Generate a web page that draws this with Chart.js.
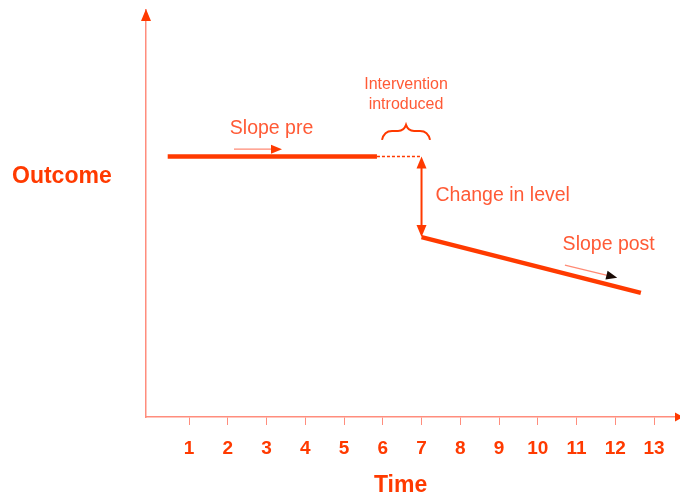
<!DOCTYPE html>
<html>
<head>
<meta charset="utf-8">
<script src="https://cdn.jsdelivr.net/npm/chart.js@4"></script>
<style>
  body { margin:0; background:#fff; }
  #wrap { width:680px; height:497px; }
</style>
</head>
<body>
<div id="wrap"><canvas id="its" width="680" height="497"></canvas></div>
<script>
// interrupted time series sketch
const timeTicks = [1, 2, 3, 4, 5, 6, 7, 8, 9, 10, 11, 12, 13];
const preX = [0.45, 5.85];
const preY = [64, 64];
const gapX = [5.85, 7];
const gapY = [64, 64];
const postX = [7, 12.66];
const postY = [44.2, 30.5];

const LINE = '#ff3a00';
const TEXT = '#ff5a36';
const AXIS = '#ff8d7d';
const FONT = '"Liberation Sans", Arial, sans-serif';

const pts = (xs, ys) => xs.map((x, i) => ({ x: x, y: ys[i] }));

function head(ctx, x, y, ang, len, w, color) {
  ctx.save();
  ctx.translate(x, y);
  ctx.rotate(ang);
  ctx.fillStyle = color;
  ctx.beginPath();
  ctx.moveTo(0, 0);
  ctx.lineTo(-len, -w / 2);
  ctx.lineTo(-len, w / 2);
  ctx.closePath();
  ctx.fill();
  ctx.restore();
}

const extras = {
  id: 'extras',
  afterDatasetsDraw(chart) {
    const ctx = chart.ctx, xs = chart.scales.x, ys = chart.scales.y, a = chart.chartArea;
    const X = v => xs.getPixelForValue(v), Y = v => ys.getPixelForValue(v);
    ctx.save();
    // axis arrow heads
    head(ctx, a.left, a.top - 1, -Math.PI / 2, 12, 10, LINE);
    head(ctx, a.right + 3, a.bottom, 0, 8, 9, LINE);

    // change in level double arrow
    const xc = X(postX[0]);
    ctx.strokeStyle = LINE; ctx.lineWidth = 2;
    ctx.beginPath(); ctx.moveTo(xc, Y(preY[0]) + 6); ctx.lineTo(xc, Y(postY[0]) - 6); ctx.stroke();
    head(ctx, xc, Y(preY[0]), -Math.PI / 2, 12, 10, LINE);
    head(ctx, xc, Y(postY[0]), Math.PI / 2, 12, 10, LINE);

    // slope pre arrow
    let x1 = X(2.16), y1 = Y(65.8), x2 = X(3.4), y2 = y1;
    ctx.strokeStyle = '#ff8a74'; ctx.lineWidth = 1.2;
    ctx.beginPath(); ctx.moveTo(x1, y1); ctx.lineTo(x2 - 6, y2); ctx.stroke();
    head(ctx, x2, y2, 0, 11, 9, LINE);

    // slope post arrow
    x1 = X(10.7); y1 = Y(37.3); x2 = X(12.05); y2 = Y(34.2);
    const ang = Math.atan2(y2 - y1, x2 - x1);
    ctx.beginPath(); ctx.moveTo(x1, y1); ctx.lineTo(x2 - 6 * Math.cos(ang), y2 - 6 * Math.sin(ang)); ctx.stroke();
    head(ctx, x2, y2, ang, 11, 9, '#1a0a05');

    // brace above the gap
    const bx = X(6.6), by = Y(70.3), hw = 24;
    ctx.strokeStyle = LINE; ctx.lineWidth = 2;
    ctx.beginPath();
    ctx.moveTo(bx - hw, by + 9);
    ctx.quadraticCurveTo(bx - hw + 2, by, bx - hw + 10, by);
    ctx.lineTo(bx - 8, by);
    ctx.quadraticCurveTo(bx - 2, by, bx, by - 6);
    ctx.quadraticCurveTo(bx + 2, by, bx + 8, by);
    ctx.lineTo(bx + hw - 10, by);
    ctx.quadraticCurveTo(bx + hw - 2, by, bx + hw, by + 9);
    ctx.stroke();

    // labels
    ctx.fillStyle = TEXT;
    ctx.textBaseline = 'middle';
    ctx.textAlign = 'center';
    ctx.font = '16px ' + FONT;
    ctx.fillText('Intervention', X(6.6), Y(81.6));
    ctx.fillText('introduced', X(6.6), Y(76.7));
    ctx.font = '19.5px ' + FONT;
    ctx.fillText('Slope pre', X(3.13), Y(70.8));
    ctx.fillText('Slope post', X(11.83), Y(42.3));
    ctx.textAlign = 'left';
    ctx.fillText('Change in level', X(7.36), Y(54.3));
    ctx.font = 'bold 23px ' + FONT;
    ctx.fillStyle = LINE;
    ctx.fillText('Outcome', 12, Y(59.0));
    // axis title, placed left of the plot centre as in the source
    ctx.textAlign = 'center';
    ctx.fillText('Time', X(6.46), 486);
    ctx.restore();
  }
};

new Chart(document.getElementById('its').getContext('2d'), {
  type: 'line',
  data: {
    datasets: [
      { data: pts(preX, preY), borderColor: LINE, borderWidth: 4.5, pointRadius: 0 },
      { data: pts(gapX, gapY), borderColor: LINE, borderWidth: 1.5, borderDash: [3, 2], pointRadius: 0 },
      { data: pts(postX, postY), borderColor: LINE, borderWidth: 4.5, pointRadius: 0 }
    ]
  },
  options: {
    responsive: false,
    animation: false,
    devicePixelRatio: 1,
    layout: { padding: { left: 138, top: 10, right: 0, bottom: 0 } },
    plugins: { legend: { display: false }, tooltip: { enabled: false } },
    scales: {
      x: {
        type: 'linear', min: -0.11, max: 13.67,
        afterBuildTicks: s => { s.ticks = timeTicks.map(v => ({ value: v })); },
        grid: { drawOnChartArea: false, drawTicks: true, tickLength: 8, color: AXIS, lineWidth: 1 },
        border: { display: true, color: AXIS, width: 1.5 },
        ticks: { color: LINE, padding: 14.5, maxRotation: 0, font: { family: FONT, size: 19, weight: 'bold', lineHeight: 1 } },
        // space kept for the title, which the plugin draws
        title: { display: true, text: 'Time', color: 'rgba(0,0,0,0)', padding: { top: 0, bottom: 1 }, font: { family: FONT, size: 23, weight: 'bold', lineHeight: 1 } }
      },
      y: {
        min: 0, max: 100,
        grid: { display: false },
        border: { display: true, color: AXIS, width: 1.5 },
        ticks: { display: false }
      }
    }
  },
  plugins: [extras]
});
</script>
</body>
</html>
